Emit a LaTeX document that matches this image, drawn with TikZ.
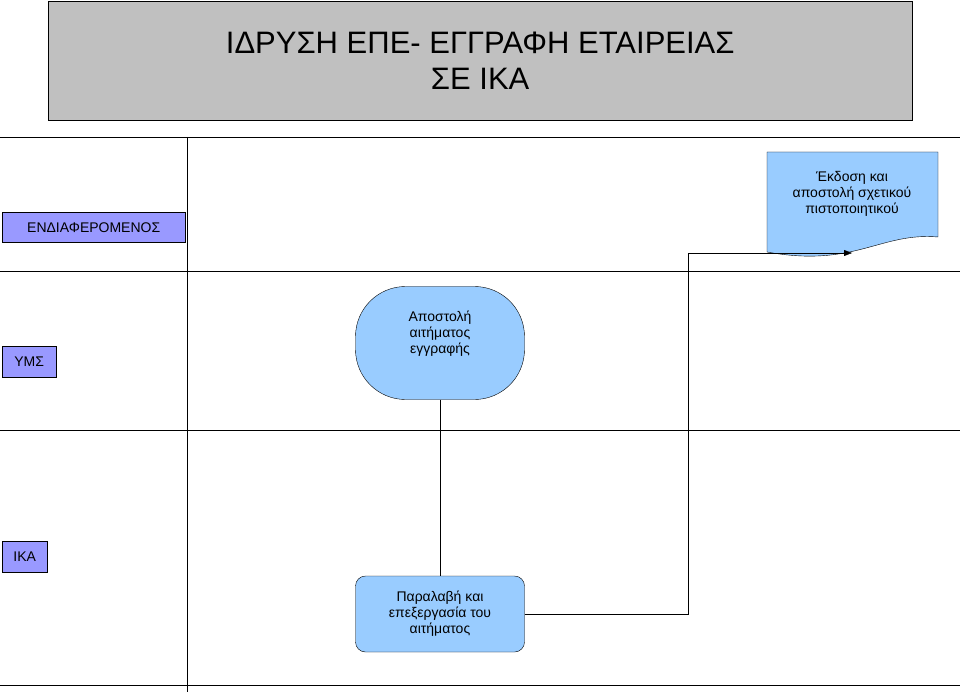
\documentclass[tikz,border=0pt]{standalone}
\usepackage{fontspec}
\setmainfont{Liberation Sans}
\usetikzlibrary{arrows.meta}
\definecolor{lane}{HTML}{9999FF}
\definecolor{box}{HTML}{99CCFF}
\definecolor{ttl}{HTML}{C0C0C0}
\begin{document}
\begin{tikzpicture}[x=1pt,y=-1pt,
  lbl/.style={draw,fill=lane,anchor=north west,inner sep=0pt,font=\fontsize{14}{16}\selectfont},
  proc/.style={draw,fill=box,align=center,font=\fontsize{14}{16}\selectfont}]
\useasboundingbox (0,0) rectangle (960,692);
\node[draw,fill=ttl,minimum width=864pt,minimum height=119pt,anchor=north west,align=center,font=\fontsize{31}{36}\selectfont] (title) at (48,1) {ΙΔΡΥΣΗ ΕΠΕ- ΕΓΓΡΑΦΗ ΕΤΑΙΡΕΙΑΣ\\ΣΕ ΙΚΑ};
\draw (0,137) -- (960,137) (0,271) -- (960,271) (0,430) -- (960,430) (0,685) -- (960,685) (187,137) -- (187,692);
\node[lbl,minimum width=183pt,minimum height=30pt] (l1) at (2,212) {ΕΝΔΙΑΦΕΡΟΜΕΝΟΣ};
\node[lbl,minimum width=54pt,minimum height=31pt] (l2) at (2,346) {ΥΜΣ};
\node[lbl,minimum width=45pt,minimum height=31pt] (l3) at (2,541) {ΙΚΑ};
\node[proc,rounded corners=50pt,minimum width=169pt,minimum height=113pt] (a) at (440,343) {};
\node[align=center,font=\fontsize{14}{16}\selectfont] at (440,334) {Αποστολή\\αιτήματος\\εγγραφής};
\node[proc,rounded corners=10pt,minimum width=169pt,minimum height=76pt] (b) at (440,614) {Παραλαβή και\\επεξεργασία του\\αιτήματος};
\draw[fill=box] (767,152) -- (938,152) -- (938,237) .. controls (880,232) and (855,268) .. (767,252) -- cycle;
\node[align=center,font=\fontsize{14}{16}\selectfont] (d) at (852,194) {Έκδοση και\\αποστολή σχετικού\\πιστοποιητικού};
\coordinate (dt) at (852,253);
\draw (a.south) -- (b.north);
\draw[-{Triangle[length=8pt,width=6pt]}] (b.east) -- (688,614) -- (688,253) -- (dt);
\end{tikzpicture}
\end{document}
